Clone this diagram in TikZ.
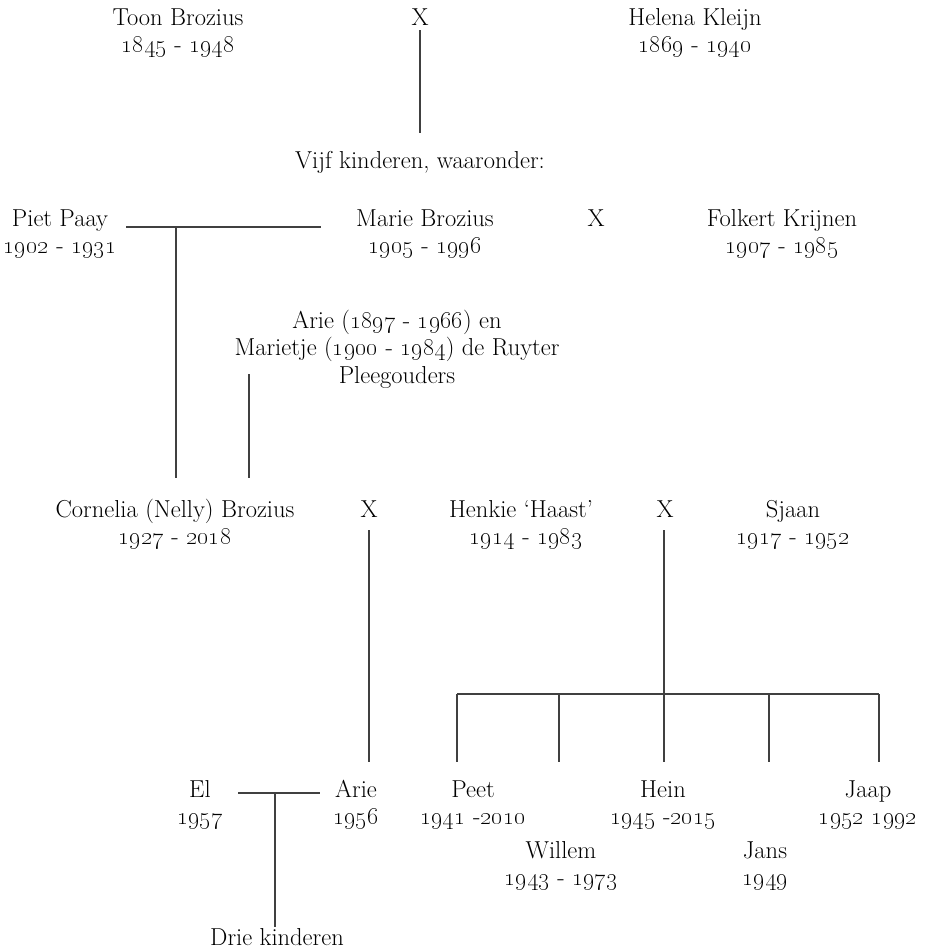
\documentclass[tikz,border=0pt]{standalone}
\usepackage{tikz}
\newcommand\yr[1]{{\fontsize{27}{27.5}\selectfont\oldstylenums{#1}}}
\tikzset{
  person/.style={align=center, inner sep=0pt, anchor=north,
    font=\fontsize{24.5}{27.5}\selectfont},
  link/.style={line width=1.4pt, draw=black!75},
}
\begin{document}
\begin{tikzpicture}[x=1pt,y=-1pt]
\useasboundingbox (0,0) rectangle (927,951);
% generation 1
\node[person] (toon)   at (178,5.75) {\strut Toon Brozius\\\yr{1845} - \yr{1948}};
\node[person] (x1)     at (420,5.75) {\strut X};
\node[person] (helena) at (695,5.75) {\strut Helena Kleijn\\\yr{1869} - \yr{1940}};
\node[person] (vijf)   at (420,148.75) {\strut Vijf kinderen, waaronder:};
% generation 2
\node[person] (piet)    at (60,206.75)  {\strut Piet Paay\\\yr{1902} - \yr{1931}};
\node[person] (marie)   at (425,206.75) {\strut Marie Brozius\\\yr{1905} - \yr{1996}};
\node[person] (x2)      at (596,206.75) {\strut X};
\node[person] (folkert) at (782,206.75) {\strut Folkert Krijnen\\\yr{1907} - \yr{1985}};
\node[person] (pleeg)   at (397,308.75) {\strut Arie (\yr{1897} - \yr{1966}) en\\Marietje (\yr{1900} - \yr{1984}) de Ruyter\\Pleegouders};
% generation 3
\node[person] (nelly)  at (175,497.75) {\strut Cornelia (Nelly) Brozius\\\yr{1927} - \yr{2018}};
\node[person] (x3)     at (369,497.75) {\strut X};
\node[person] (henkie) at (526,497.75) {\strut Henkie `Haast'\hspace*{10pt}\\\yr{1914} - \yr{1983}};
\node[person] (x4)     at (665,497.75) {\strut X};
\node[person] (sjaan)  at (793,497.75) {\strut Sjaan\\\yr{1917} - \yr{1952}};
% generation 4
\node[person] (el)     at (200,777.75) {\strut El\\\yr{1957}};
\node[person] (arie)   at (356,777.75) {\strut Arie\\\yr{1956}};
\node[person] (peet)   at (473,777.75) {\strut Peet\\\yr{1941} -\yr{2010}};
\node[person] (hein)   at (663,777.75) {\strut Hein\\\yr{1945} -\yr{2015}};
\node[person] (jaap)   at (868,777.75) {\strut Jaap\\\yr{1952} \yr{1992}};
\node[person] (willem) at (561,838.75) {\strut Willem\\\yr{1943} - \yr{1973}};
\node[person] (jans)   at (765,838.75) {\strut Jans\\\yr{1949}};
\node[person] (drie)   at (277,925.75) {\strut Drie kinderen};
% connector points
\coordinate (x1b) at (420,30);   \coordinate (vijft) at (420,133);
\coordinate (pmL) at (126,227);  \coordinate (pmR) at (321,227);
\coordinate (pm)  at (176,227);  \coordinate (nellyA) at (176,478);
\coordinate (pl)  at (249,374);  \coordinate (nellyB) at (249,478);
\coordinate (x3b) at (369,530);  \coordinate (arieT) at (369,762);
\coordinate (x4b) at (664,530);  \coordinate (bar) at (664,694);
\coordinate (barL) at (457,694); \coordinate (barR) at (879,694);
\coordinate (b1) at (457,694) ; \coordinate (c1) at (457,762);
\coordinate (b2) at (559,694) ; \coordinate (c2) at (559,762);
\coordinate (b3) at (664,694) ; \coordinate (c3) at (664,762);
\coordinate (b4) at (769,694) ; \coordinate (c4) at (769,762);
\coordinate (b5) at (879,694) ; \coordinate (c5) at (879,762);
\coordinate (eaL) at (238,793);  \coordinate (eaR) at (320,793);
\coordinate (ea) at (275,793);   \coordinate (drieT) at (275,927);
% connectors
\draw[link] (x1b) -- (vijft);
\draw[link] (pmL) -- (pmR);
\draw[link] (pm) -- (nellyA);
\draw[link] (pl) -- (nellyB);
\draw[link] (x3b) -- (arieT);
\draw[link] (x4b) -- (bar);
\draw[link] (barL) -- (barR);
\foreach \i in {1,...,5} { \draw[link] (b\i) -- (c\i); }
\draw[link] (eaL) -- (eaR);
\draw[link] (ea) -- (drieT);
\end{tikzpicture}
\end{document}
